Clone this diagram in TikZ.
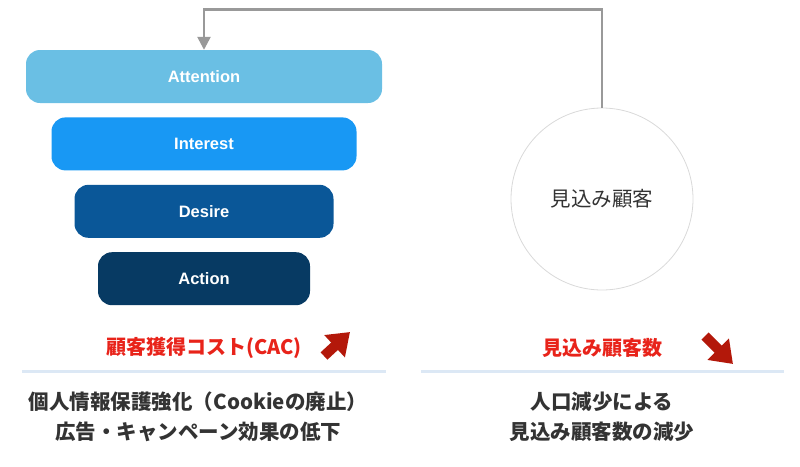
\documentclass[tikz,border=0pt]{standalone}
\usepackage{fontspec}
\setmainfont{Noto Sans CJK JP}
\newfontfamily\boxfont{Liberation Sans}
\usetikzlibrary{positioning,arrows.meta}
\definecolor{attncol}{HTML}{6ABFE4}
\definecolor{intrcol}{HTML}{1898F4}
\definecolor{descol}{HTML}{0A5798}
\definecolor{actcol}{HTML}{073A63}
\definecolor{labred}{HTML}{E8231A}
\definecolor{arrred}{HTML}{B3180A}
\definecolor{txtgray}{HTML}{333333}
\definecolor{rulecol}{HTML}{DCE8F5}
\definecolor{fbgray}{HTML}{999999}

\begin{document}
\begin{tikzpicture}[
x=1pt,y=-1pt,
stage/.style={rounded corners=14pt,minimum height=53pt,inner sep=0pt,text=white,font=\boxfont\bfseries\fontsize{16.5}{18}\selectfont},
redlabel/.style={text=labred,font=\bfseries\fontsize{20}{24}\selectfont},
note/.style={text=txtgray,align=center,font=\bfseries\fontsize{20.5}{30}\selectfont},
bigarrow/.style={arrred,line width=10pt,-{Triangle[length=21pt,width=29pt]}},
>=Stealth]
\useasboundingbox (0,0) rectangle (800,466);
% funnel
\node (attn) [stage,fill=attncol,minimum width=356pt] at (204,76.5) {Attention};
\node (intr) [stage,fill=intrcol,minimum width=305pt,below=14pt of attn] {Interest};
\node (des) [stage,fill=descol,minimum width=259pt,below=14pt of intr] {Desire};
\node (act) [stage,fill=actcol,minimum width=212pt,below=14pt of des] {Action};
% prospects
\node (pros) [circle,draw=black!15,line width=0.8pt,minimum size=182pt,inner sep=0pt,text=txtgray,font=\fontsize{20.5}{24}\selectfont] at (602,199) {見込み顧客};
\draw[fbgray,line width=2.5pt,-{Triangle[length=13pt,width=13pt]}] (pros.north) -- ++(0,-98) -| (attn.north);
% labels
\node (cac) [redlabel] at (204,348) {顧客獲得コスト(CAC)};
\node (cnt) [redlabel] at (602,348) {見込み顧客数};
\coordinate (upA) at (324,356);
\coordinate (upB) at (350,332);
\coordinate (dnA) at (705,336);
\coordinate (dnB) at (733,364);
\draw[bigarrow] (upA) -- (upB);
\draw[bigarrow] (dnA) -- (dnB);
\draw[rulecol,line width=3pt] (22,371) -- (386,371);
\draw[rulecol,line width=3pt] (421,371) -- (784,371);
\node (lnote) [note] at (198,417) {個人情報保護強化（Cookieの廃止）\\広告・キャンペーン効果の低下};
\node (rnote) [note] at (602,417) {人口減少による\\見込み顧客数の減少};
\end{tikzpicture}
\end{document}
